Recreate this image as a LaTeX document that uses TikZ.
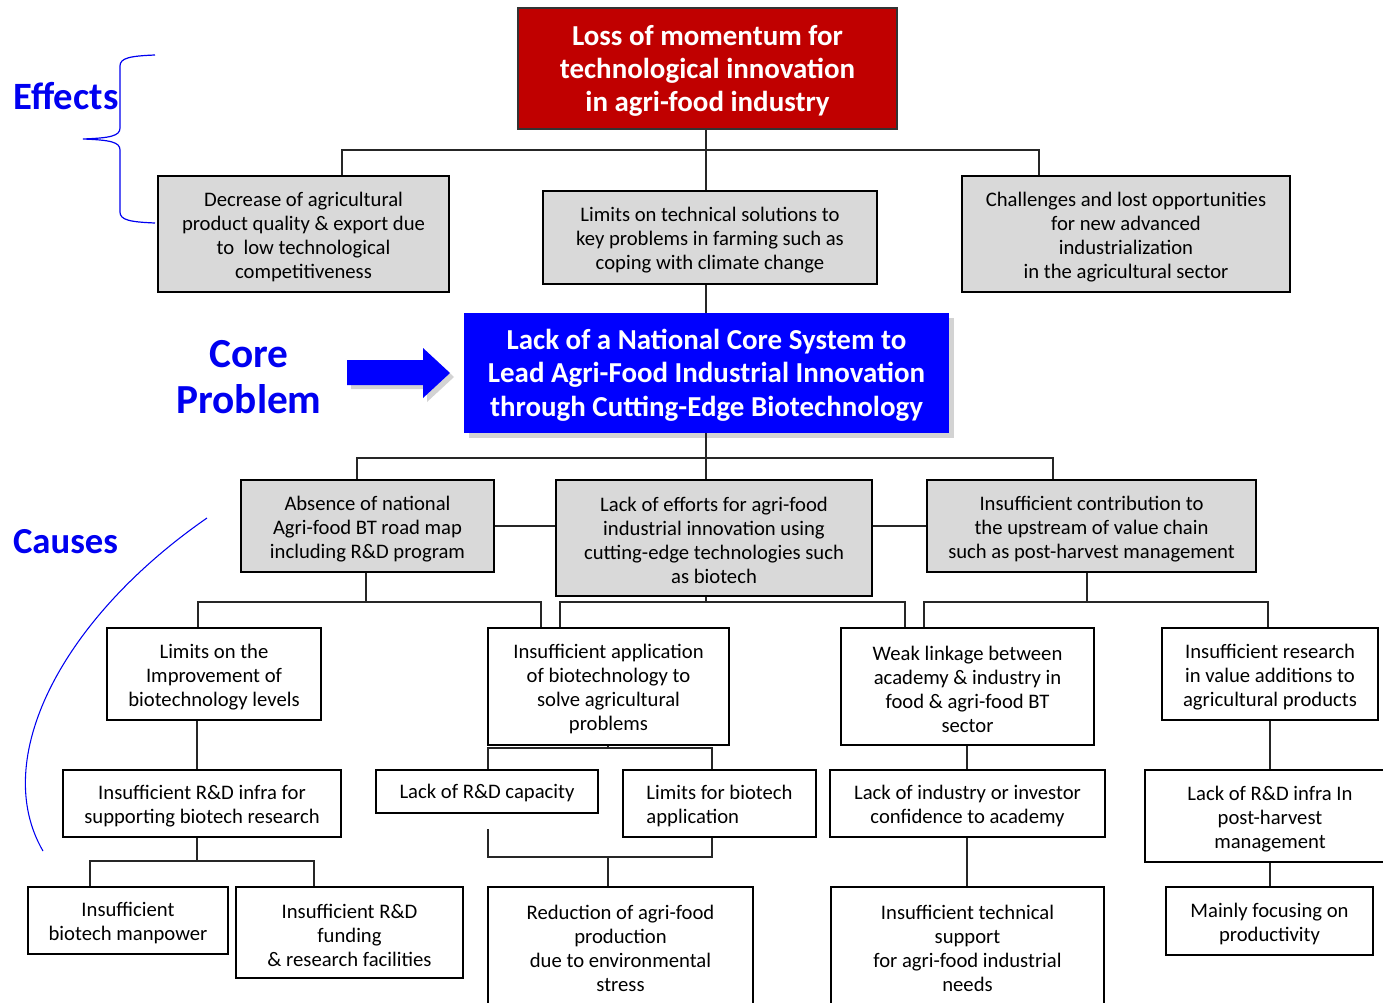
\documentclass[tikz,border=0pt]{standalone}
\usepackage{fontspec}
\setmainfont{Carlito}
\usetikzlibrary{shadows}
\definecolor{effectred}{HTML}{C00000}
\definecolor{coreblue}{HTML}{0000FF}
\definecolor{boxgray}{HTML}{D9D9D9}
\definecolor{labelblue}{HTML}{0000F0}
% struts that set the height of the first text line in a box
\newcommand\boxstrut{\rule{0pt}{0.95em}}
\newcommand\headstrut{\rule{0pt}{0.86em}}
\begin{document}
\begin{tikzpicture}[x=0.75pt,y=-0.75pt,
  sized/.style 2 args={minimum width=#1*0.75pt, minimum height=#2*0.75pt},
  box/.style={draw=black, line width=1.1pt, inner sep=0pt, align=center,
    font=\fontsize{15.5}{18}\selectfont, text=black},
  graybox/.style={box, fill=boxgray},
  whitebox/.style={box, fill=white},
  headbox/.style={inner sep=0pt, align=center, text=white,
    font=\fontsize{21.7}{25}\bfseries\selectfont},
  conn/.style={line width=0.8pt, draw=black!85},
  sidelabel/.style={font=\fontsize{27.5}{32}\bfseries\selectfont, text=labelblue},
  bracket/.style={draw=labelblue, line width=0.9pt},
]
\useasboundingbox (0,0) rectangle (1383,1002);
\clip (0,0) rectangle (1383,1002);

% ---------- effects ----------
\node[headbox, sized={379}{121}, fill=effectred, draw=black!80, line width=1pt]
  (red) at (707.5,68.5) {\headstrut Loss of momentum for\\technological innovation\\in agri-food industry};
\node[graybox, sized={291}{116}] (e1) at (303.5,234)
  {\boxstrut Decrease of agricultural\\product quality \& export due\\to\ \ low technological\\competitiveness};
\node[graybox, sized={334}{93}] (e2) at (710,237.5)
  {\boxstrut Limits on technical solutions to\\key problems in farming such as\\coping with climate change};
\node[graybox, sized={328}{116}] (e3) at (1126,234)
  {\boxstrut Challenges and lost opportunities\\for new advanced\\industrialization\\in the agricultural sector};

% ---------- core problem ----------
\node[headbox, sized={485}{120}, fill=coreblue,
  drop shadow={opacity=0.35, shadow xshift=4pt, shadow yshift=-4pt}]
  (core) at (706.5,373)
  {\headstrut Lack of a National Core System to\\Lead Agri-Food Industrial Innovation\\through Cutting-Edge Biotechnology};

% ---------- causes, first level ----------
\node[graybox, sized={253}{92}] (c1) at (367.5,526)
  {\boxstrut Absence of national\\Agri-food BT road map\\including R\&D program};
\node[graybox, sized={316}{116}] (c2) at (714,538)
  {\boxstrut Lack of efforts for agri-food\\industrial innovation using\\cutting-edge technologies such\\as biotech};
\node[graybox, sized={329}{92}] (c3) at (1091.5,526)
  {\boxstrut Insufficient contribution to\\the upstream of value chain\\such as post-harvest management};

% ---------- causes, second level ----------
\node[whitebox, sized={214}{92}] (a2) at (214,674)
  {\boxstrut Limits on the\\Improvement of\\biotechnology levels};
\node[whitebox, sized={241}{117}] (b2) at (608.5,686.5)
  {\boxstrut Insufficient application\\of biotechnology to\\solve agricultural\\problems};
\node[whitebox, sized={253}{117}] (cb2) at (967.5,686.5)
  {\boxstrut Weak linkage between\\academy \& industry in\\food \& agri-food BT\\sector};
\node[whitebox, sized={216}{92}] (d2) at (1270,674)
  {\boxstrut Insufficient research\\in value additions to\\agricultural products};

% ---------- causes, third level ----------
\node[whitebox, sized={278}{67}] (a3) at (202,803.5)
  {\boxstrut Insufficient R\&D infra for\\supporting biotech research};
\node[whitebox, sized={222}{43}] (b3a) at (487,791.5) {\rule{0pt}{0.85em}Lack of R\&D capacity};
\node[whitebox, sized={193}{67}, align=left] (b3b) at (719.5,803.5)
  {\boxstrut Limits for biotech\\application};
\node[whitebox, sized={275}{67}] (cb3) at (967.5,803.5)
  {\boxstrut Lack of industry or investor\\confidence to academy};
\node[whitebox, sized={250}{92}] (d3) at (1270,816)
  {\boxstrut Lack of R\&D infra In\\post-harvest\\management};

% ---------- causes, fourth level ----------
\node[whitebox, sized={200}{67}] (a4a) at (128,920.5)
  {\boxstrut Insufficient\\biotech manpower};
\node[whitebox, sized={227}{91}] (a4b) at (349.5,932.5)
  {\boxstrut Insufficient R\&D\\funding\\\& research facilities};
\node[whitebox, sized={265}{117}] (b4) at (620.5,945.5)
  {\boxstrut Reduction of agri-food\\production\\due to environmental\\stress};
\node[whitebox, sized={273}{117}] (cb4) at (967.5,945.5)
  {\boxstrut Insufficient technical\\support\\for agri-food industrial\\needs};
\node[whitebox, sized={207}{68}] (d4) at (1269.5,921)
  {\boxstrut Mainly focusing on\\productivity};

% ---------- connectors: effects ----------
\coordinate (ebus) at (706,150);
\coordinate (eL) at (342,150);
\coordinate (eR) at (1039,150);
\draw[conn] (ebus |- red.south) -- (ebus |- e2.north);
\draw[conn] (eL |- e1.north) -- (eL) -- (eR) -- (eR |- e3.north);
\draw[conn] (ebus |- e2.south) -- (ebus |- core.north);

% ---------- connectors: first level ----------
\coordinate (cM) at (706,458);
\coordinate (cL) at (357,458);
\coordinate (cR) at (1053,458);
\draw[conn] (cM |- core.south) -- (cM |- c2.north);
\draw[conn] (cL |- c1.north) -- (cL) -- (cR) -- (cR |- c3.north);
\draw[conn] (c1.east) -- (c1.east -| c2.west);
\draw[conn] (c3.west) -- (c3.west -| c2.east);

% ---------- connectors: second level ----------
\coordinate (k1) at (366,602);
\coordinate (k1L) at (198,602);
\coordinate (k1R) at (541,602);
\draw[conn] (k1 |- c1.south) -- (k1);
\draw[conn] (k1L |- a2.north) -- (k1L) -- (k1R) -- (k1R |- b2.north);
\coordinate (k2) at (706,602);
\coordinate (k2L) at (560,602);
\coordinate (k2R) at (905,602);
\draw[conn] (k2 |- c2.south) -- (k2);
\draw[conn] (k2L |- b2.north) -- (k2L) -- (k2R) -- (k2R |- cb2.north);
\coordinate (k3) at (1087,602);
\coordinate (k3L) at (924,602);
\coordinate (k3R) at (1268,602);
\draw[conn] (k3 |- c3.south) -- (k3);
\draw[conn] (k3L |- cb2.north) -- (k3L) -- (k3R) -- (k3R |- d2.north);

% ---------- connectors: lower levels ----------
\coordinate (acol) at (197,861);
\coordinate (aL) at (90,861);
\coordinate (aR) at (314,861);
\draw[conn] (acol |- a2.south) -- (acol |- a3.north);
\draw[conn] (acol |- a3.south) -- (acol);
\draw[conn] (aL |- a4a.north) -- (aL) -- (aR) -- (aR |- a4b.north);

\coordinate (bj) at (608,748);
\coordinate (bL) at (488,748);
\coordinate (bR) at (712,748);
\draw[conn] (bj |- b2.south) -- (bj);
\draw[conn] (bL |- b3a.north) -- (bL) -- (bR) -- (bR |- b3b.north);
\coordinate (bgap) at (488,829);
\coordinate (bj2) at (608,857);
\coordinate (bL2) at (488,857);
\coordinate (bR2) at (712,857);
\draw[conn] (bgap) -- (bL2) -- (bR2) -- (bR2 |- b3b.south);
\draw[conn] (bj2) -- (bj2 |- b4.north);

\coordinate (cbx) at (967,760);
\draw[conn] (cbx |- cb2.south) -- (cbx |- cb3.north);
\draw[conn] (cbx |- cb3.south) -- (cbx |- cb4.north);
\coordinate (dx) at (1270,760);
\draw[conn] (dx |- d2.south) -- (dx |- d3.north);
\draw[conn] (dx |- d3.south) -- (dx |- d4.north);

% ---------- side labels ----------
\node[sidelabel, font=\fontsize{29}{32}\bfseries\selectfont] (effects) at (66,96) {Effects};
\node[sidelabel] (causes) at (65.5,542) {Causes};
\node[sidelabel, font=\fontsize{31}{35}\bfseries\selectfont, align=center]
  (coreprob) at (249,377) {Core\\Problem};

% brace grouping the effects
\draw[bracket] (155,55) .. controls (130,56) and (120,58) .. (120,66) -- (120,128)
  .. controls (120,136) and (110,138) .. (83,139)
  .. controls (110,140) and (120,142) .. (120,150) -- (120,212)
  .. controls (120,220) and (130,222) .. (155,223);

% arc spanning the causes
\draw[bracket, line width=0.8pt] (207,518) .. controls (60,620) and (-10,760) .. (43,851);

% block arrow pointing at the core problem
\fill[coreblue, drop shadow={opacity=0.35, shadow xshift=3pt, shadow yshift=-3pt}]
  (347,360) -- (423,360) -- (423,348) -- (450,373) -- (423,398) -- (423,385)
  -- (347,385) -- cycle;
\end{tikzpicture}
\end{document}
